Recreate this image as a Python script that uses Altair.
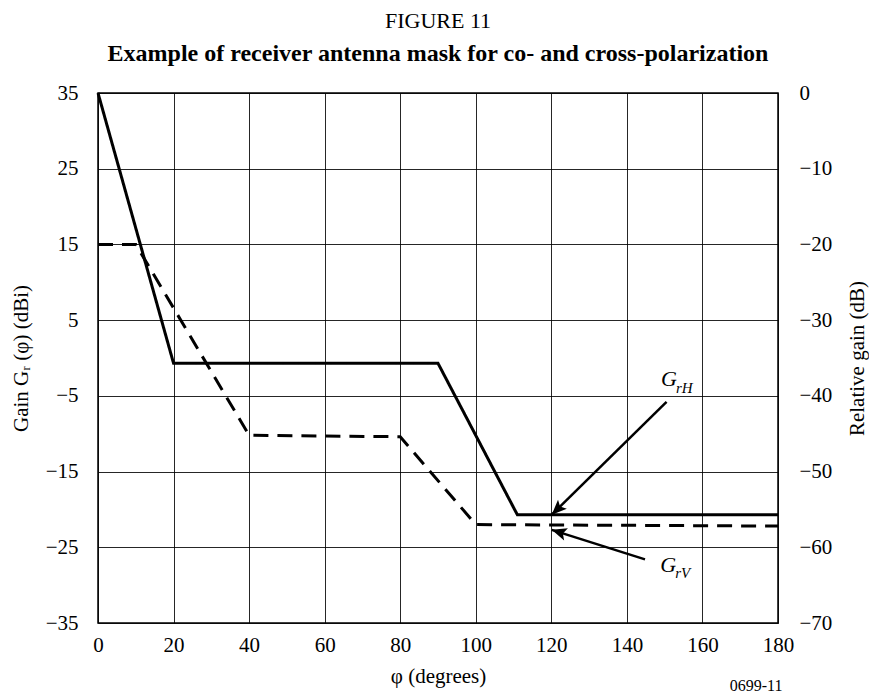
import altair as alt
import pandas as pd

# ---- data ----
phi_H = [0, 20, 90, 111, 180]
gain_H = [35, -0.7, -0.7, -20.7, -20.7]
phi_V = [0, 10, 40, 80, 100, 180]
gain_V = [15, 15, -10.2, -10.4, -22.0, -22.2]

x_ticks = [0, 20, 40, 60, 80, 100, 120, 140, 160, 180]
left_ticks = [-35, -25, -15, -5, 5, 15, 25, 35]
right_ticks = [-70, -60, -50, -40, -30, -20, -10, 0]

# arrows: start (phi, gain) -> tip (phi, gain), head angle
arrow_names = ["GrH", "GrV"]
arrow_x0 = [150.5, 144.8]
arrow_y0 = [-5.8, -26.6]
arrow_x1 = [120.1, 120.1]
arrow_y1 = [-20.7, -22.7]
arrow_angle = [225.6, 287.5]

label_G_x = [151.1, 150.9]
label_G_y = [-2.8, -27.3]
label_sub_x = [153.0, 152.8]
label_sub_y = [-4.0, -28.4]
label_sub = ["rH", "rV"]

FONT = "Liberation Serif"

lines_df = pd.concat([
    pd.DataFrame({"phi": phi_H, "gain": gain_H, "series": "GrH", "order": range(len(phi_H))}),
    pd.DataFrame({"phi": phi_V, "gain": gain_V, "series": "GrV", "order": range(len(phi_V))}),
])
arrows_df = pd.DataFrame({"name": arrow_names, "x0": arrow_x0, "y0": arrow_y0,
                          "x1": arrow_x1, "y1": arrow_y1, "angle": arrow_angle})
labG_df = pd.DataFrame({"x": label_G_x, "y": label_G_y, "t": ["G", "G"]})
labS_df = pd.DataFrame({"x": label_sub_x, "y": label_sub_y, "t": label_sub})
right_df = pd.DataFrame({"rel": right_ticks})

xscale = alt.Scale(domain=[0, 180], nice=False, zero=False)
yscale = alt.Scale(domain=[-35, 35], nice=False, zero=False)

x_enc = alt.X("phi:Q", scale=xscale,
              axis=alt.Axis(values=x_ticks, title="φ (degrees)", grid=True,
                            labelPadding=11, titlePadding=10, labelFlush=False))

lines = alt.Chart(lines_df).mark_line(color="black", strokeWidth=3).encode(
    x=x_enc,
    y=alt.Y("gain:Q", scale=yscale,
            axis=alt.Axis(values=left_ticks, title="Gain Gᵣ (φ) (dBi)", grid=True,
                          labelPadding=20, titlePadding=14, labelFlush=False)),
    detail="series:N",
    order="order:Q",
    strokeDash=alt.StrokeDash("series:N", scale=alt.Scale(domain=["GrH", "GrV"],
                                                          range=[[1, 0], [15, 9]]),
                              legend=None),
)

shafts = alt.Chart(arrows_df).mark_rule(color="black", strokeWidth=2.5).encode(
    x=alt.X("x0:Q", scale=xscale), y=alt.Y("y0:Q", scale=yscale),
    x2="x1:Q", y2="y1:Q",
)
heads = alt.Chart(arrows_df).mark_point(
    shape="M0,0L-0.42,1L0,0.78L0.42,1Z", filled=True, color="black",
    size=900, opacity=1, strokeWidth=0,
).encode(
    x=alt.X("x1:Q", scale=xscale), y=alt.Y("y1:Q", scale=yscale),
    angle=alt.Angle("angle:Q", scale=None),
)
labG = alt.Chart(labG_df).mark_text(font=FONT, fontSize=22, fontStyle="italic",
                                    color="black").encode(
    x=alt.X("x:Q", scale=xscale), y=alt.Y("y:Q", scale=yscale), text="t:N")
labS = alt.Chart(labS_df).mark_text(font=FONT, fontSize=15, fontStyle="italic",
                                    color="black", align="left").encode(
    x=alt.X("x:Q", scale=xscale), y=alt.Y("y:Q", scale=yscale), text="t:N")

code = alt.Chart(pd.DataFrame({"t": ["0699-11"]})).mark_text(
    font=FONT, fontSize=16, color="black", baseline="bottom"
).encode(x=alt.value(658), y=alt.value(601), text="t:N")

inner = alt.layer(lines, shafts, heads, labG, labS, code)

right = alt.Chart(right_df).mark_point(opacity=0).encode(
    y=alt.Y("rel:Q", scale=alt.Scale(domain=[-70, 0], nice=False, zero=False),
            axis=alt.Axis(orient="right", values=right_ticks, grid=False,
                          title="Relative gain (dB)", titleAngle=270,
                          labelPadding=21, titlePadding=36, labelFlush=False)),
)

chart = alt.layer(inner, right).resolve_scale(y="independent").properties(
    width=680, height=530,
    autosize="none",
    background="white",
    padding={"left": 90, "top": 85, "right": 91, "bottom": 72},
    title=alt.TitleParams(
        text="FIGURE 11",
        subtitle="Example of receiver antenna mask for co- and cross-polarization",
        font=FONT, fontSize=22, fontWeight="normal", color="black",
        subtitleFont=FONT, subtitleFontSize=24, subtitleFontWeight="bold",
        subtitleColor="black", anchor="middle", offset=15, subtitlePadding=9,
    ),
).configure_view(stroke="black", strokeWidth=1.5).configure_axis(
    labelFont=FONT, labelFontSize=21, labelColor="black",
    titleFont=FONT, titleFontSize=21, titleColor="black", titleFontWeight="normal",
    domain=False, ticks=False, gridColor="black", gridWidth=1, gridOpacity=0.85,
)

chart.save("out.html", embed_options={"renderer": "svg", "actions": False})
